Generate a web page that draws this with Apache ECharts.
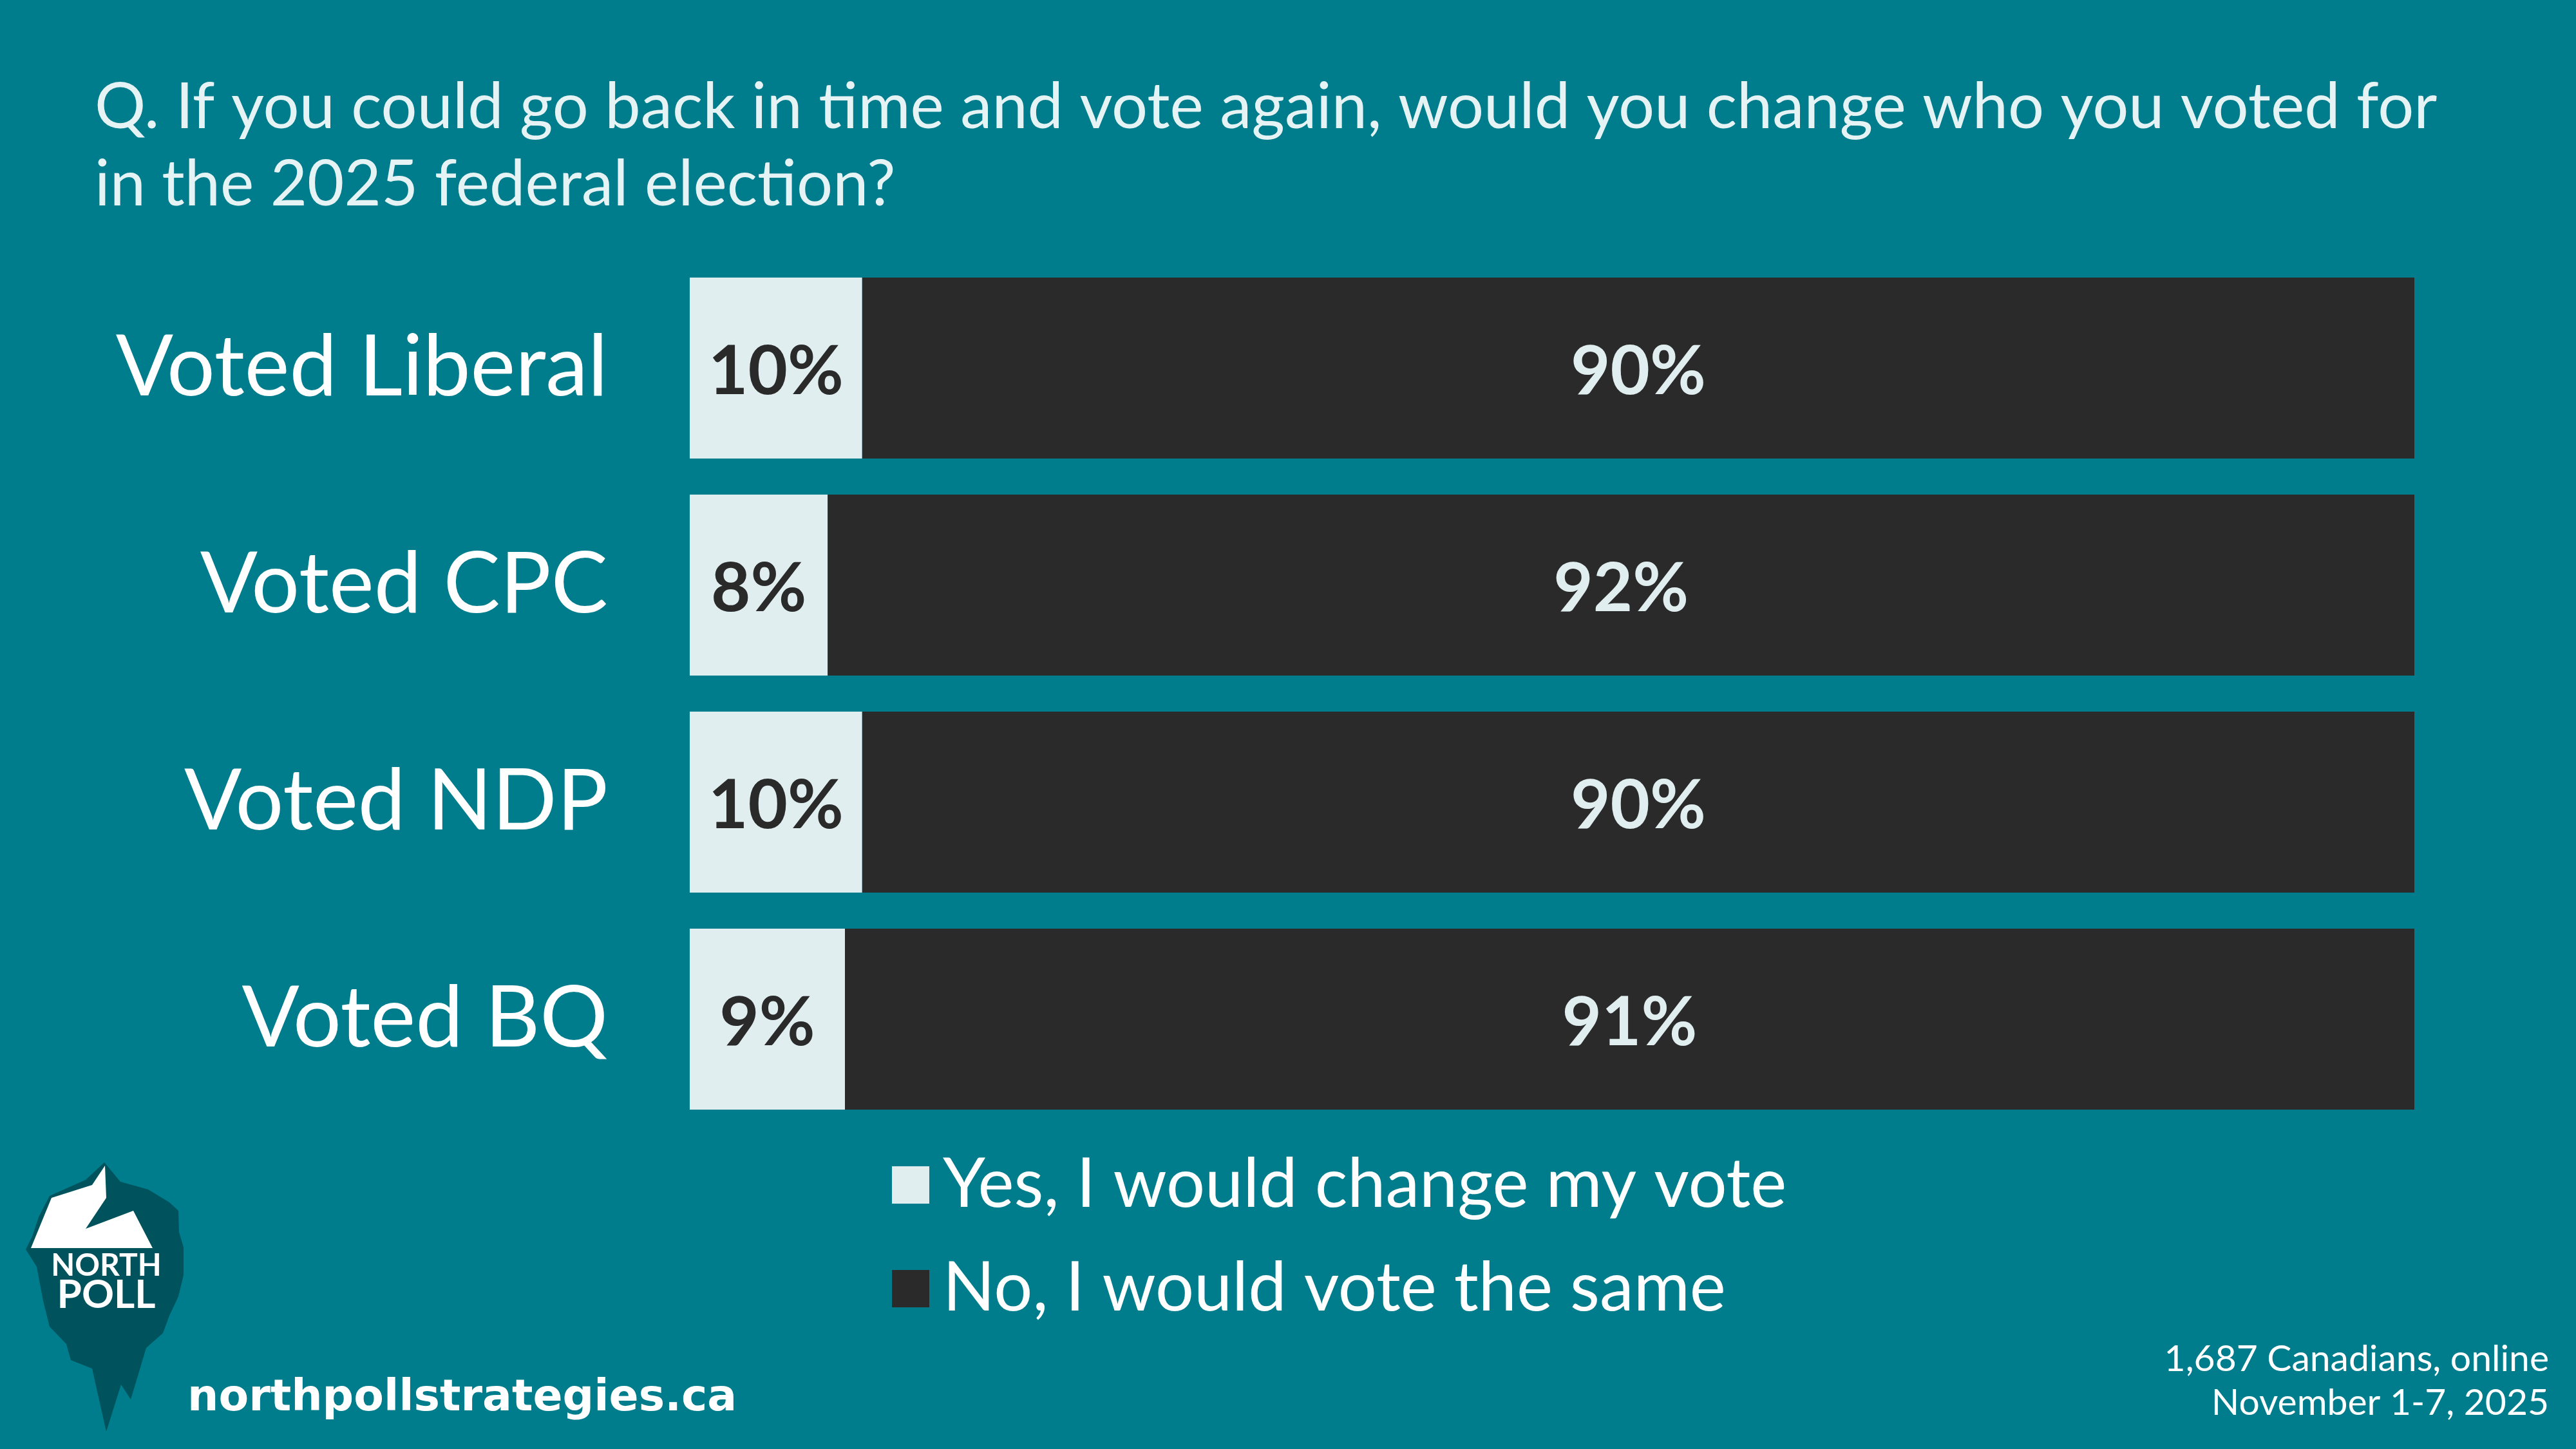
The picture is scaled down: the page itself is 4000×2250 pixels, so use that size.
<!DOCTYPE html>
<html>
<head>
<meta charset="utf-8">
<style>
  html, body { margin: 0; padding: 0; background: #007D8C; }
  #chart { width: 4000px; height: 2250px; }
</style>
<script src="https://cdn.jsdelivr.net/npm/echarts@6/dist/echarts.min.js"></script>
</head>
<body>
<div id="chart"></div>
<script>
const categories = ['Voted Liberal', 'Voted CPC', 'Voted NDP', 'Voted BQ'];
const yesValues = [10, 8, 10, 9];
const noValues = [90, 92, 90, 91];
const seriesNames = ['Yes, I would change my vote', 'No, I would vote the same'];
const titleText = 'Q. If you could go back in time and vote again, would you change who you voted for\nin the 2025 federal election?';
const footnoteText = '1,687 Canadians, online\nNovember 1-7, 2025';
const urlText = 'northpollstrategies.ca';

const BG = '#007D8C';
const LIGHT = '#E0EEF0';
const DARK = '#2A2A2A';
const LOGO = '#00525C';
const FONT = 'Lato';

const chart = echarts.init(document.getElementById('chart'), null, { renderer: 'canvas' });

chart.setOption({
  backgroundColor: BG,
  animation: false,
  title: {
    text: titleText,
    left: 142,
    top: 102,
    textStyle: { color: '#E6F3F5', fontFamily: FONT, fontWeight: 'normal', fontSize: 99, lineHeight: 120 }
  },
  legend: {
    orient: 'vertical',
    left: 1380,
    top: 1782,
    itemWidth: 58,
    itemHeight: 58,
    itemGap: 55,
    icon: 'rect',
    data: seriesNames,
    textStyle: { color: '#FFFFFF', fontFamily: FONT, fontSize: 106, lineHeight: 104, padding: [0, 0, 0, 16] }
  },
  grid: { left: 1071, right: 251, top: 403, bottom: 499, containLabel: false },
  xAxis: { type: 'value', min: 0, max: 100, show: false },
  yAxis: {
    type: 'category',
    data: categories,
    inverse: true,
    axisLine: { show: false },
    axisTick: { show: false },
    axisLabel: { color: '#FFFFFF', fontFamily: FONT, fontSize: 132, margin: 127 }
  },
  series: [
    {
      name: seriesNames[0], type: 'bar', stack: 'total', data: yesValues,
      barCategoryGap: '16.6%',
      itemStyle: { color: LIGHT },
      label: { show: true, position: 'inside', offset: [0, 6], formatter: '{c}%', color: DARK, fontFamily: FONT, fontWeight: 'bold', fontSize: 106 }
    },
    {
      name: seriesNames[1], type: 'bar', stack: 'total', data: noValues,
      barCategoryGap: '16.6%',
      itemStyle: { color: DARK },
      label: { show: true, position: 'inside', offset: [0, 6], formatter: '{c}%', color: LIGHT, fontFamily: FONT, fontWeight: 'bold', fontSize: 106 }
    }
  ],
  graphic: [
    {
      type: 'polygon',
      shape: { points: [[162,1805],[187,1835],[230,1847],[263,1867],[277,1880],[278,1913],[285,1937],[285,1980],[277,2013],[263,2043],[253,2070],[227,2093],[203,2173],[188,2150],[165,2223],[143,2125],[110,2112],[103,2087],[77,2060],[67,2020],[57,1967],[40,1940],[50,1920],[60,1890],[77,1857],[133,1832]] },
      style: { fill: LOGO }
    },
    {
      type: 'polygon',
      shape: { points: [[48,1938],[80,1860],[143,1840],[163,1810],[165,1860],[133,1908],[207,1880],[237,1938]] },
      style: { fill: '#FFFFFF' }
    },
    {
      type: 'text', x: 165, y: 1990,
      style: { text: 'NORTH', fill: '#FFFFFF', font: 'bold 48px ' + FONT, align: 'center', verticalAlign: 'bottom' }
    },
    {
      type: 'text', x: 165, y: 2042,
      style: { text: 'POLL', fill: '#FFFFFF', font: 'bold 62px ' + FONT, align: 'center', verticalAlign: 'bottom' }
    },
    {
      type: 'text', x: 291, y: 2206,
      style: { text: urlText, fill: '#FFFFFF', font: 'bold 68px "DejaVu Sans"', align: 'left', verticalAlign: 'bottom' }
    },
    {
      type: 'text', x: 3958, y: 2077,
      style: { text: footnoteText, fill: '#FFFFFF', font: 'normal 57px ' + FONT, lineHeight: 68, align: 'right', verticalAlign: 'top' }
    }
  ]
});
</script>
</body>
</html>
